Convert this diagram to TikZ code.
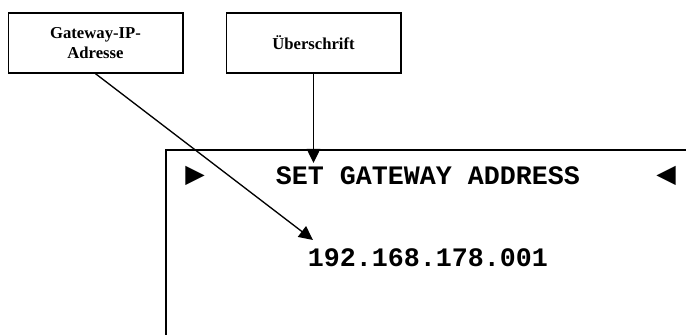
\documentclass[tikz,border=0pt]{standalone}
\usepackage{fontspec}
\setmainfont{Liberation Serif}
\newfontfamily\lcdfont{Liberation Mono}
\newfontfamily\symfont{DejaVu Sans}
\usetikzlibrary{arrows.meta}
\begin{document}
\begin{tikzpicture}[x=0.75pt,y=-0.75pt,line width=1pt,
  callout/.style={draw,minimum width=131pt,minimum height=45pt,align=center,
    font=\fontsize{12.5}{15.5}\selectfont\bfseries},
  lcd/.style={font=\fontsize{20}{24}\selectfont\lcdfont\bfseries},
  cursor/.style={inner sep=0pt,font=\fontsize{19}{19}\selectfont\symfont},
  pointer/.style={-{Triangle[length=10.5pt,width=10pt]}}]
\useasboundingbox (0,0) rectangle (686,335);
\draw (166,335) |- (686,150);
\node[callout] (gw) at (95.5,43) {Gateway-IP-\\Adresse};
\node[callout] (hd) at (313.5,43) {Überschrift};
\node[lcd] (title) at (428,176) {SET GATEWAY ADDRESS};
\node[cursor] (lmark) at (195,176) {▶};
\node[cursor] (rmark) at (666,176) {◀};
\node[lcd] (ip) at (428,258) {192.168.178.001};
\coordinate (hdtip) at (313.5,163);
\coordinate (iptip) at (313,240);
\draw[pointer] (hd.south) -- (hdtip);
\draw[pointer] (gw.south) -- (iptip);
\end{tikzpicture}
\end{document}
